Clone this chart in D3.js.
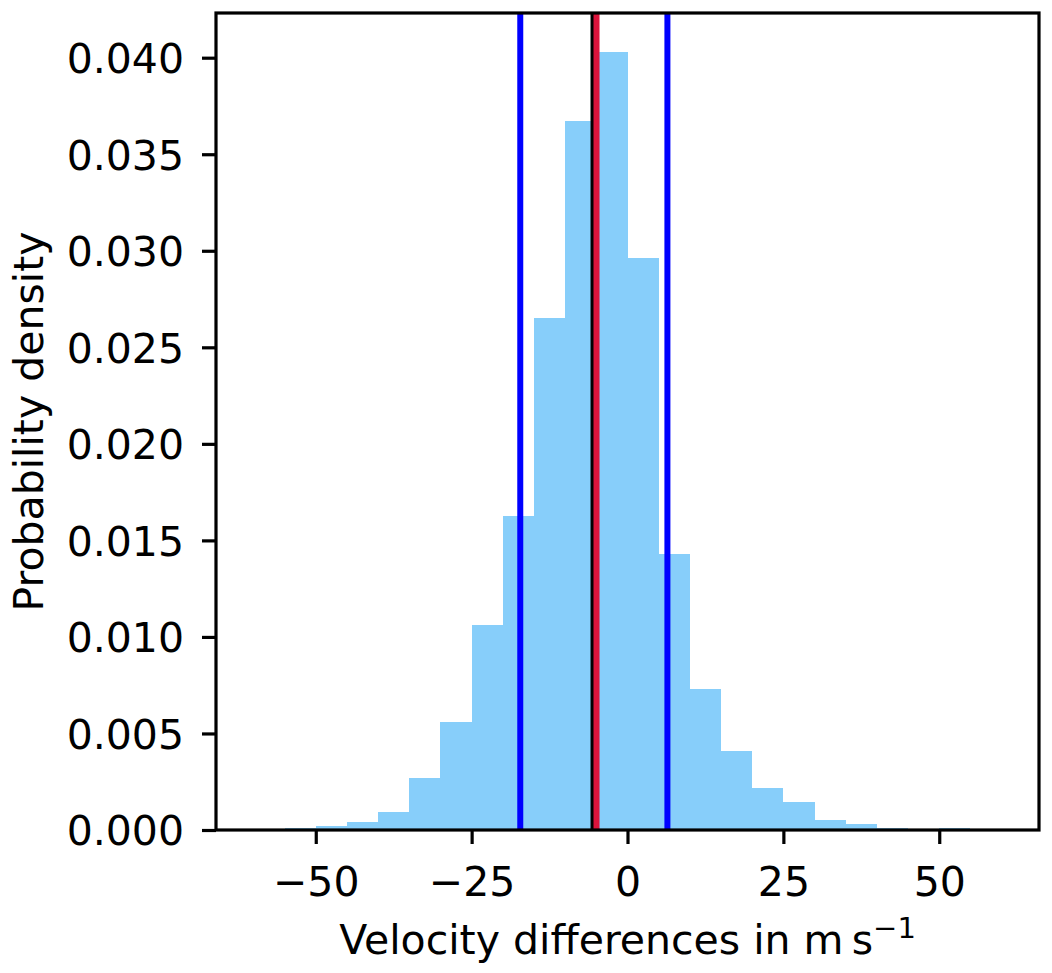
<!DOCTYPE html>
<html>
<head>
<meta charset="utf-8">
<script src="https://cdn.jsdelivr.net/npm/d3@7"></script>
<style>
  body { margin: 0; background: #fff; }
  text { font-family: "DejaVu Sans", sans-serif; fill: #000; }
</style>
</head>
<body>
<svg id="chart"></svg>
<script>
// histogram bins (left edges, width 5) and densities
const binEdges = [-60, -55, -50, -45, -40, -35, -30, -25, -20, -15, -10, -5,
                  0, 5, 10, 15, 20, 25, 30, 35, 40, 45, 50, 55, 60];
const densities = [0, 0.00012, 0.0002, 0.0004, 0.00093, 0.0027, 0.0056, 0.0106,
                   0.01625, 0.0265, 0.0367, 0.0403, 0.0296, 0.01428, 0.0073, 0.0041,
                   0.00217, 0.00145, 0.00052, 0.0003, 0.0001, 0, 0.0001, 0];
const xTicks = [-50, -25, 0, 25, 50];
const yTicks = [0, 0.005, 0.01, 0.015, 0.02, 0.025, 0.03, 0.035, 0.04];
// vertical markers: percentiles (blue), mean (black), median (red)
const vlines = [
  { x: -17.2, color: "#0000ff" },
  { x: 6.4, color: "#0000ff" },
  { x: -5.45, color: "#000000" },
  { x: -4.97, color: "#dc143c" }
];

const W = 1052, H = 973;
const mLeft = 216, mRight = 1039, mTop = 13, mBottom = 830;
const fs = 41;

const svg = d3.select("#chart").attr("width", W).attr("height", H);

const x = d3.scaleLinear().domain([-66, 66]).range([mLeft, mRight]);
const y = d3.scaleLinear().domain([0, 0.0403 * 1.05]).range([mBottom, mTop]);

const bins = densities.map((d, i) => ({ x0: binEdges[i], x1: binEdges[i + 1], v: d }));

svg.append("g").selectAll("rect")
  .data(bins)
  .join("rect")
  .attr("x", d => x(d.x0))
  .attr("width", d => x(d.x1) - x(d.x0))
  .attr("y", d => y(d.v))
  .attr("height", d => y(0) - y(d.v))
  .attr("fill", "#87cefa")
  .attr("shape-rendering", "crispEdges");

svg.append("g").selectAll("line")
  .data(vlines)
  .join("line")
  .attr("x1", d => x(d.x)).attr("x2", d => x(d.x))
  .attr("y1", mTop).attr("y2", mBottom)
  .attr("stroke", d => d.color)
  .attr("stroke-width", 6);

const fmt = d3.format(".3f");

const xAxis = svg.append("g")
  .attr("transform", `translate(0,${mBottom})`)
  .call(d3.axisBottom(x).tickValues(xTicks).tickSize(14).tickPadding(14)
    .tickFormat(d => d < 0 ? "\u2212" + Math.abs(d) : d));

const yAxis = svg.append("g")
  .attr("transform", `translate(${mLeft},0)`)
  .call(d3.axisLeft(y).tickValues(yTicks).tickSize(14).tickPadding(14)
    .tickFormat(fmt));

[xAxis, yAxis].forEach(g => {
  g.select(".domain").remove();
  g.selectAll(".tick line").attr("stroke", "#000").attr("stroke-width", 3.2);
  g.selectAll(".tick text").attr("font-size", fs).attr("font-family", "DejaVu Sans").attr("fill", "#000");
});
xAxis.selectAll(".tick text").attr("dy", null).attr("y", 66);
yAxis.selectAll(".tick text").attr("dy", "0.36em").attr("x", -32);

// frame
svg.append("rect")
  .attr("x", mLeft).attr("y", mTop)
  .attr("width", mRight - mLeft).attr("height", mBottom - mTop)
  .attr("fill", "none").attr("stroke", "#000").attr("stroke-width", 3.2);

// axis labels
const xl = svg.append("text")
  .attr("x", (mLeft + mRight) / 2).attr("y", 954)
  .attr("text-anchor", "middle").attr("font-size", fs);
xl.append("tspan").text("Velocity differences in m\u2009s");
xl.append("tspan").attr("dy", -16).attr("font-size", 29).text("\u22121");

svg.append("text")
  .attr("transform", `translate(43,${(mTop + mBottom) / 2}) rotate(-90)`)
  .attr("text-anchor", "middle").attr("font-size", fs)
  .text("Probability density");
</script>
</body>
</html>
